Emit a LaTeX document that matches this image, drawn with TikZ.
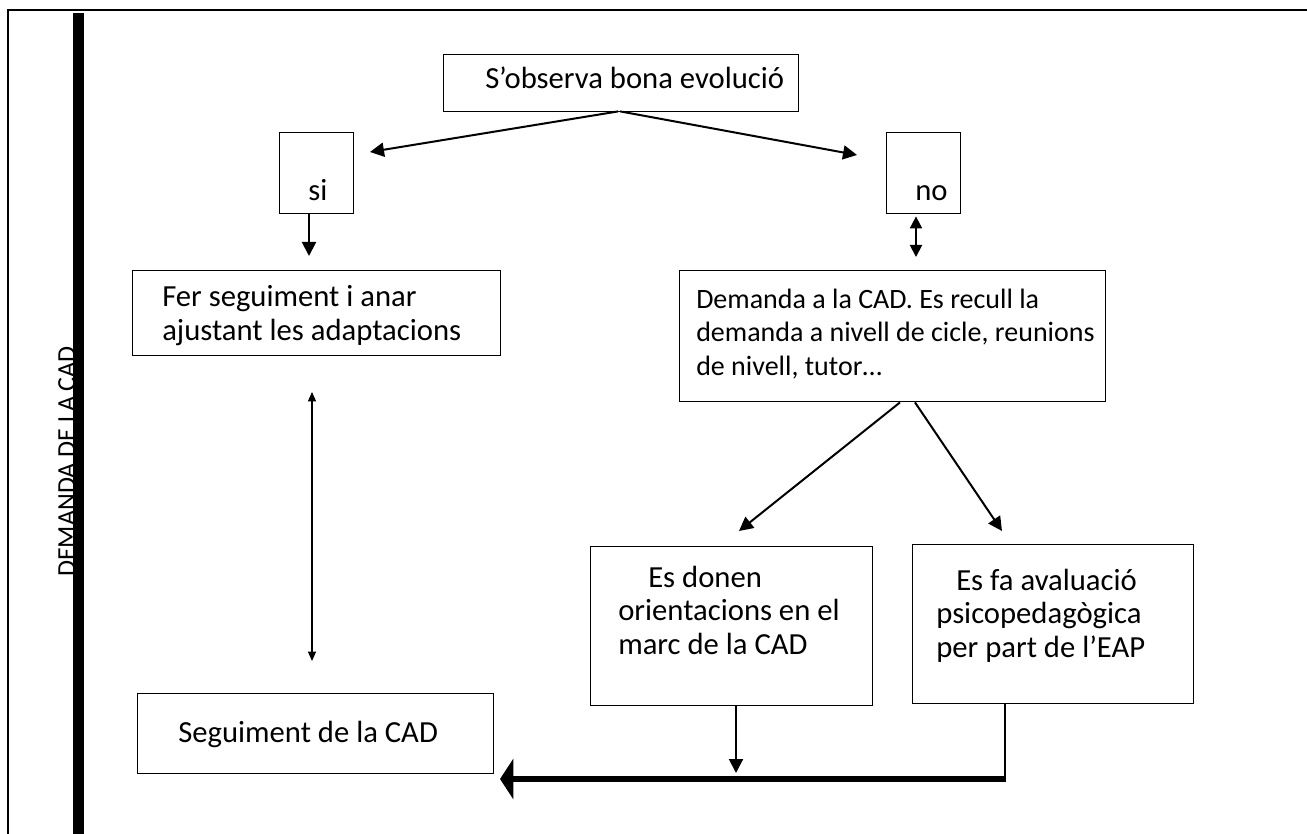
\documentclass[tikz,border=0pt]{standalone}
\usepackage{fontspec}
\setmainfont{Carlito}
\usetikzlibrary{arrows.meta,calc}
\begin{document}
\begin{tikzpicture}[x=0.75pt,y=-0.75pt,
  box/.style={draw, line width=1.05pt, inner sep=0pt, anchor=north west},
  txt/.style={anchor=base west, inner sep=0pt, font=\fontsize{23}{25}\selectfont},
  txts/.style={anchor=base west, inner sep=0pt, font=\fontsize{21}{24.75}\selectfont},
  conn/.style={line width=1.5pt, -{Triangle[length=10.5pt,width=10.5pt]}},
  dconn/.style={line width=1.5pt, {Triangle[length=9pt,width=9pt]}-{Triangle[length=9pt,width=9pt]}},
  thinconn/.style={line width=0.9pt, {Triangle[length=7pt,width=6pt]}-{Triangle[length=7pt,width=6pt]}},
  bigconn/.style={line width=4.5pt, -{Triangle[length=10pt,width=30pt]}}
]
\useasboundingbox (0,0) rectangle (1307,834);
% frame
\draw[line width=1.5pt] (8,834) -- (8,10) -- (1307,10);
% rotated label
\node[anchor=base west, inner sep=0pt, rotate=90, font=\fontsize{19.5}{22}\selectfont] (side) at (75,577) {DEMANDA DE LA CAD};
\fill (73,13) rectangle (84,834);
% boxes
\node[box, minimum width=355*0.75pt, minimum height=57*0.75pt] (top) at (443,54) {};
\node[box, minimum width=74*0.75pt, minimum height=81*0.75pt] (si) at (279,132) {};
\node[box, minimum width=74*0.75pt, minimum height=81*0.75pt] (no) at (886,132) {};
\node[box, minimum width=368*0.75pt, minimum height=85*0.75pt] (fer) at (132,270) {};
\node[box, minimum width=426*0.75pt, minimum height=131*0.75pt] (dem) at (679,270) {};
\node[box, minimum width=356*0.75pt, minimum height=80*0.75pt] (seg) at (137,693) {};
\node[box, minimum width=282*0.75pt, minimum height=159*0.75pt] (don) at (590,546) {};
\node[box, minimum width=281*0.75pt, minimum height=159*0.75pt] (fa) at (912,544) {};
% texts
\node[txt] (t1) at (485,89) {S’observa bona evolució};
\node[txt] (t2) at (308,201) {si};
\node[txt] (t3) at (915,201) {no};
\node[txt] (t4a) at (162,307) {Fer seguiment i anar};
\node[txt] (t4b) at (162,340) {ajustant les adaptacions};
\node[txts] (t5a) at (696,309) {Demanda a la CAD. Es recull la};
\node[txts] (t5b) at (696,342) {demanda a nivell de cicle, reunions};
\node[txts] (t5c) at (696,375) {de nivell, tutor…};
\node[txt] (t6a) at (648,587) {Es donen};
\node[txt] (t6b) at (618,620.5) {orientacions en el};
\node[txt] (t6c) at (618,654) {marc de la CAD};
\node[txt] (t7a) at (956,590) {Es fa avaluació};
\node[txt] (t7b) at (936,623.5) {psicopedagògica};
\node[txt] (t7c) at (936,657) {per part de l’EAP};
\node[txt] (t8) at (178,742) {Seguiment de la CAD};
% free ends
\coordinate (ltip) at (370,152);
\coordinate (rtip) at (857,155);
\coordinate (sitip) at (309,256);
\coordinate (notip) at (916,257);
\coordinate (va) at (312,392);
\coordinate (vb) at (312,661);
\coordinate (dontip) at (739,531);
\coordinate (fatip) at (1002,531);
\coordinate (bottip) at (736,773);
\coordinate (corner) at (1005,779);
\coordinate (bigtip) at (500,779);
% connectors
\draw[conn] ($(top.south)+(-3,-1)$) -- (ltip);
\draw[conn] ($(top.south)+(-1,-1)$) -- (rtip);
\draw[conn] (si.south -| sitip) -- (sitip);
\draw[dconn] ($(no.south -| notip)+(0,2)$) -- (notip);
\draw[thinconn] (va) -- (vb);
\draw[conn] (dem.south -| 900,0) -- (dontip);
\draw[conn] (dem.south -| 915,0) -- (fatip);
\draw[conn] (don.south -| bottip) -- (bottip);
\draw[line width=1.5pt] (fa.south -| corner) -- ($(corner)+(0,2)$);
\draw[bigconn] ($(corner)+(0.8,0)$) -- (bigtip);
\end{tikzpicture}
\end{document}
